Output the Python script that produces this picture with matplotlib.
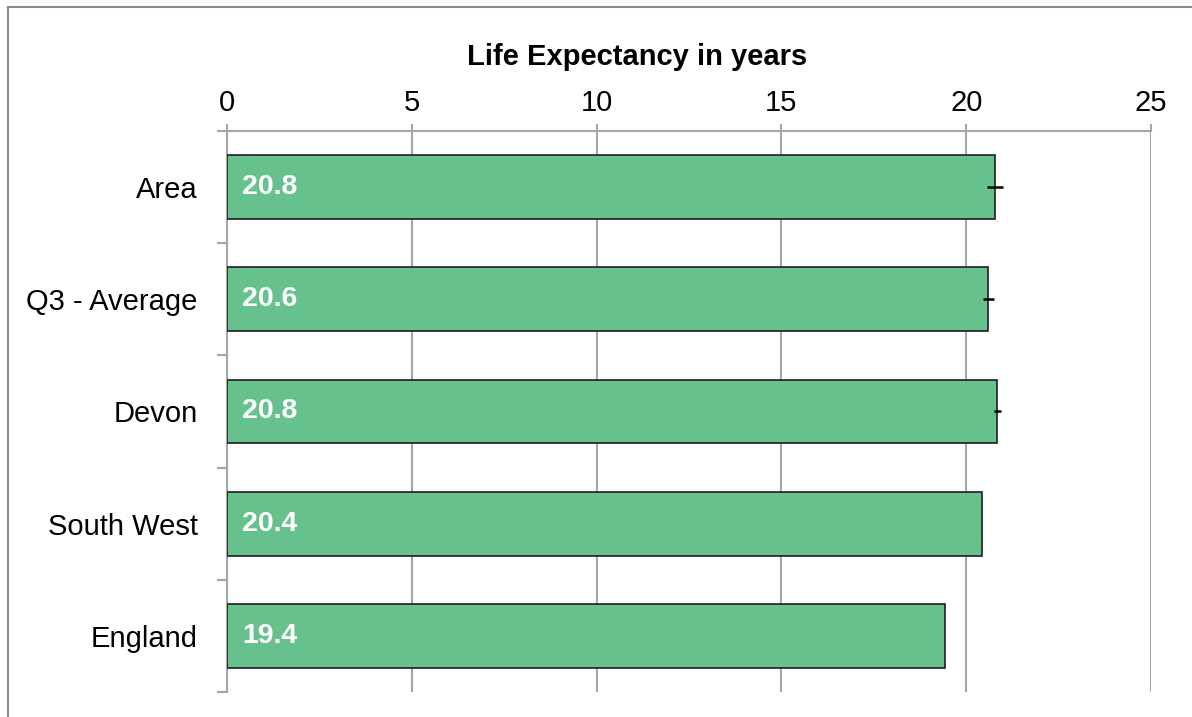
import numpy as np
import matplotlib
matplotlib.use("Agg")
import matplotlib.pyplot as plt
from matplotlib.patches import Rectangle

plt.rcParams["font.family"] = ["Liberation Sans", "DejaVu Sans"]

# Podaci
categories = ["Area", "Q3 - Average", "Devon", "South West", "England"]
values = [20.78, 20.60, 20.84, 20.44, 19.43]
err_low = [0.22, 0.14, 0.09, 0.0, 0.0]
err_high = [0.22, 0.14, 0.09, 0.0, 0.0]
has_err = [True, True, True, False, False]
x_ticks = [0, 5, 10, 15, 20, 25]

W, H = 1192, 717
fig = plt.figure(figsize=(W / 100, H / 100), dpi=100)

# okvir oko grafa (desni i donji rub izlaze iz slike)
fig.patches.append(Rectangle((8 / W, -0.2), 1.2, 1.2 - 7 / H, transform=fig.transFigure,
                             fill=False, edgecolor="#8c8c8c", linewidth=1.5))

ax = fig.add_axes([227 / W, 1 - 692 / H, (1151 - 227) / W, (692 - 131) / H])

grid_c = "#a6a6a6"
y = np.arange(len(categories))
ax.barh(y, values, height=0.57, color="#67c18d", edgecolor="#1e1e1e", linewidth=1.2, zorder=3)

for i in range(len(categories)):
    if has_err[i]:
        ax.errorbar(values[i], y[i], xerr=[[err_low[i]], [err_high[i]]], fmt="none",
                    ecolor="black", elinewidth=1.8, capsize=0, zorder=4)
    ax.text(0.4, y[i], f"{values[i]:.1f}", color="white", fontweight="bold",
            fontsize=20.5, va="center", ha="left", zorder=5)

ax.set_xlim(0, 25)
ax.set_ylim(len(categories) - 0.5, -0.5)
ax.xaxis.tick_top()
ax.set_xticks(x_ticks)
ax.set_xticklabels([str(t) for t in x_ticks], fontsize=21)
ax.tick_params(axis="x", direction="out", length=5, width=1.5, color=grid_c, pad=5)

ax.set_yticks(y)
ax.set_yticklabels(categories, fontsize=21)
ax.set_yticks(np.arange(-0.5, len(categories)), minor=True)
ax.tick_params(axis="y", which="major", length=0, pad=21)
ax.tick_params(axis="y", which="minor", direction="out", length=7, width=1.5, color=grid_c)

ax.grid(axis="x", color=grid_c, linewidth=1.5, zorder=0)
ax.set_axisbelow(True)
for s in ["right", "bottom"]:
    ax.spines[s].set_visible(False)
ax.spines["top"].set_color(grid_c)
ax.spines["top"].set_linewidth(1.5)
ax.spines["left"].set_color(grid_c)
ax.spines["left"].set_linewidth(1.5)

fig.text(637 / W, 1 - 57 / H, "Life Expectancy in years", ha="center", va="center",
         fontsize=21, fontweight="bold")

fig.savefig("out.png", dpi=100)
